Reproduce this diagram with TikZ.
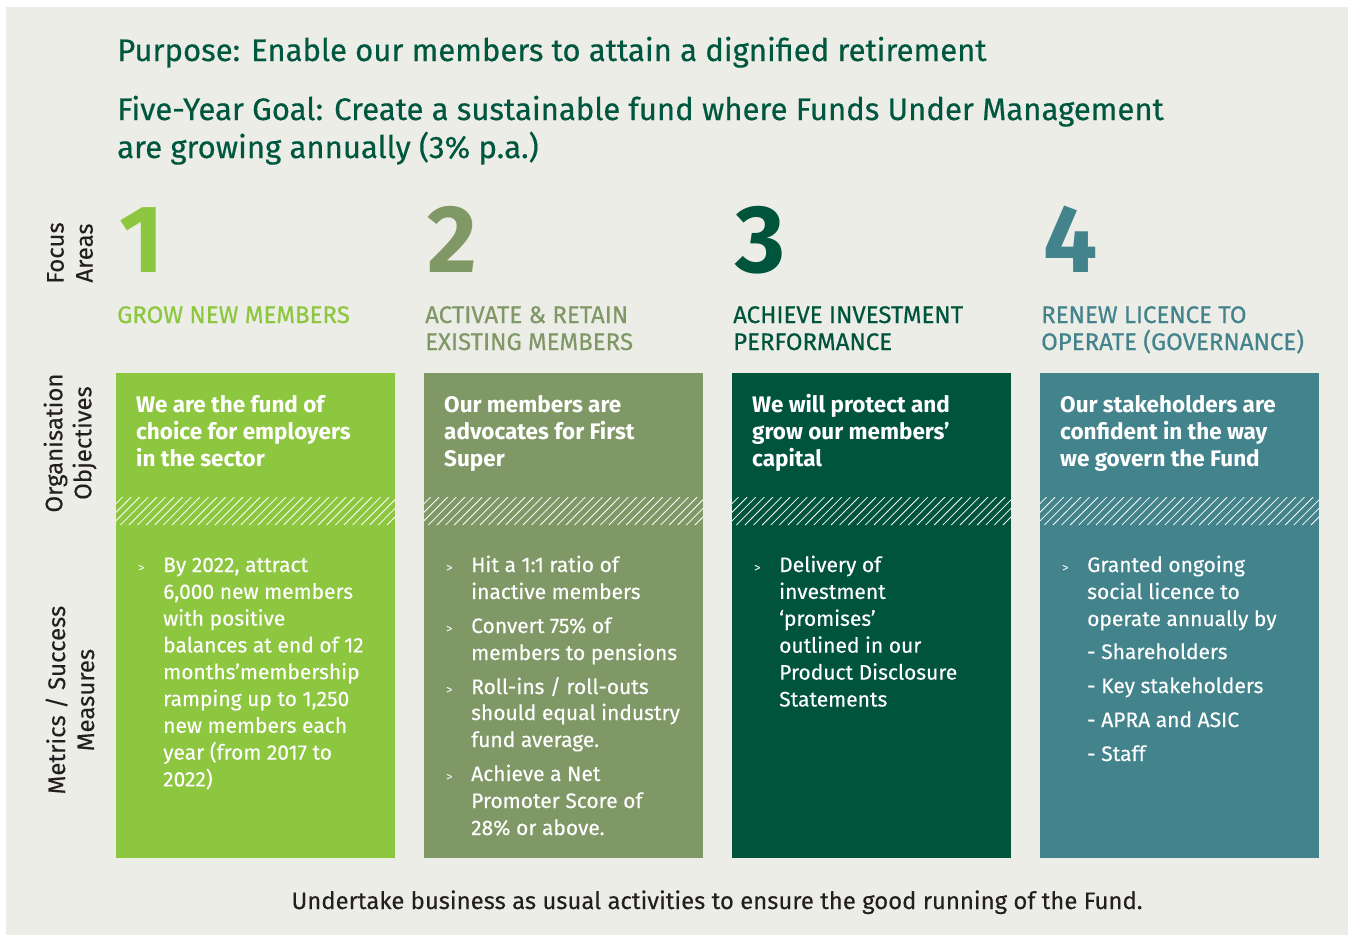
\documentclass[tikz,border=0pt]{standalone}
\usepackage{fontspec}
\setmainfont{Fira Sans}
\newfontfamily\medfont{Fira Sans}[FakeBold=0.5]
\newfontfamily\bodyfont{Fira Sans}[FakeBold=0.25]
\definecolor{bgc}{HTML}{EDEDE8}
\definecolor{cA}{HTML}{8DC63F}
\definecolor{cB}{HTML}{809866}
\definecolor{cC}{HTML}{00543C}
\definecolor{cD}{HTML}{43838C}
\definecolor{ttl}{HTML}{00573F}
\definecolor{ink}{HTML}{231F20}
\tikzset{
  ttltext/.style={anchor=base west, inner sep=0, text=ttl, font=\medfont\fontsize{31.1}{34}\selectfont},
  numtext/.style={anchor=base west, inner sep=0, font=\fontsize{96}{100}\selectfont\bfseries},
  headtext/.style={anchor=base west, inner sep=0, font=\medfont\fontsize{24}{27}\selectfont},
  boxtitle/.style={anchor=base west, inner sep=0, text=white, font=\fontsize{22.5}{27}\selectfont\bfseries},
  bodytext/.style={anchor=base west, inner sep=0, text=white, font=\bodyfont\fontsize{21}{27}\selectfont},
  bul/.style={anchor=base west, inner sep=0, text=white, font=\fontsize{13}{27}\selectfont},
  sidelabel/.style={rotate=90, align=center, inner sep=0, text=ink, font=\bodyfont\fontsize{24}{29}\selectfont},
  colbox/.style={inner sep=0, minimum width=279pt, minimum height=485pt, anchor=north west}
}
\begin{document}
\begin{tikzpicture}[x=1pt,y=-1pt]
\useasboundingbox (0,0) rectangle (1350,935);
\fill[white] (0,0) rectangle (1350,935);
\fill[bgc] (6,7) rectangle (1348,935);
% titles
\node[ttltext] (t1) at (117,61) {Purpose: Enable our members to attain a dignified retirement};
\node[ttltext] (t2) at (117,120) {Five-Year Goal: Create a sustainable fund where Funds Under Management};
\node[ttltext] (t3) at (117,158) {are growing annually (3\% p.a.)};
% side labels
\node[sidelabel] (s1) at (70,253) {Focus\\Areas};
\node[sidelabel] (s2) at (70,443) {Organisation\\Objectives};
\node[sidelabel] (s3) at (70,700) {Metrics / Success\\Measures};
% columns
\foreach \x/\c/\n [count=\i] in {116/cA/1,424/cB/2,732/cC/3,1040/cD/4}{
  \node[colbox, fill=\c] (box\i) at (\x,373) {};
  \node[numtext, text=\c] (num\i) at (\x+3,272) {\n};
  \begin{scope}
    \clip (\x,497) rectangle (\x+279,525);
    \foreach \k in {0,...,36}{
      \draw[white, line width=0.8pt] (\x-30+8.6*\k,525) -- ++(28,-28);
    }
  \end{scope}
}
% headings
\node[headtext, text=cA] (h1a) at (117,323) {GROW NEW MEMBERS};
\node[headtext, text=cB] (h2a) at (425,323) {ACTIVATE \& RETAIN};
\node[headtext, text=cB] (h2b) at (425,350) {EXISTING MEMBERS};
\node[headtext, text=cC] (h3a) at (733,323) {ACHIEVE INVESTMENT};
\node[headtext, text=cC] (h3b) at (733,350) {PERFORMANCE};
\node[headtext, text=cD] (h4a) at (1041,323) {RENEW LICENCE TO};
\node[headtext, text=cD] (h4b) at (1041,350) {OPERATE (GOVERNANCE)};
% box titles
\foreach \x/\a/\b/\cc [count=\i] in {
  136/{We are the fund of}/{choice for employers}/{in the sector},
  444/{Our members are}/{advocates for First}/{Super},
  752/{We will protect and}/{grow our members’}/{capital},
  1060/{Our stakeholders are}/{confident in the way}/{we govern the Fund}}{
  \node[boxtitle] (bt\i a) at (\x,412) {\a};
  \node[boxtitle] (bt\i b) at (\x,439) {\b};
  \node[boxtitle] (bt\i c) at (\x,466) {\cc};
}
% column 1 body
\node[bul] (b1) at (138,572) {>};
\foreach \t [count=\j] in {{By 2022, attract},{6,000 new members},{with positive},{balances at end of 12},{months’membership},{ramping up to 1,250},{new members each},{year (from 2017 to},{2022)}}{
  \node[bodytext] (c1l\j) at (163,{572+26.8*(\j-1)}) {\t};
}
% column 2 body
\node[bul] (b2a) at (446,572) {>};
\node[bul] (b2b) at (446,633) {>};
\node[bul] (b2c) at (446,694) {>};
\node[bul] (b2d) at (446,781) {>};
\node[bodytext] (c2l1) at (471,572) {Hit a 1:1 ratio of};
\node[bodytext] (c2l2) at (471,599) {inactive members};
\node[bodytext] (c2l3) at (471,633) {Convert 75\% of};
\node[bodytext] (c2l4) at (471,660) {members to pensions};
\node[bodytext] (c2l5) at (471,694) {Roll-ins / roll-outs};
\node[bodytext] (c2l6) at (471,720) {should equal industry};
\node[bodytext] (c2l7) at (471,747) {fund average.};
\node[bodytext] (c2l8) at (471,781) {Achieve a Net};
\node[bodytext] (c2l9) at (471,808) {Promoter Score of};
\node[bodytext] (c2l10) at (471,835) {28\% or above.};
% column 3 body
\node[bul] (b3) at (754,572) {>};
\foreach \t [count=\j] in {{Delivery of},{investment},{‘promises’},{outlined in our},{Product Disclosure},{Statements}}{
  \node[bodytext] (c3l\j) at (779,{572+26.9*(\j-1)}) {\t};
}
% column 4 body
\node[bul] (b4) at (1062,572) {>};
\node[bodytext] (c4l1) at (1087,572) {Granted ongoing};
\node[bodytext] (c4l2) at (1087,599) {social licence to};
\node[bodytext] (c4l3) at (1087,626) {operate annually by};
\node[bodytext] (c4l4) at (1087,659) {- Shareholders};
\node[bodytext] (c4l5) at (1087,693) {- Key stakeholders};
\node[bodytext] (c4l6) at (1087,727) {- APRA and ASIC};
\node[bodytext] (c4l7) at (1087,761) {- Staff};
% footer
\node[inner sep=0, text=ink, font=\bodyfont\fontsize{23.9}{27}\selectfont, anchor=base] (foot) at (717,909) {Undertake business as usual activities to ensure the good running of the Fund.};
\end{tikzpicture}
\end{document}
